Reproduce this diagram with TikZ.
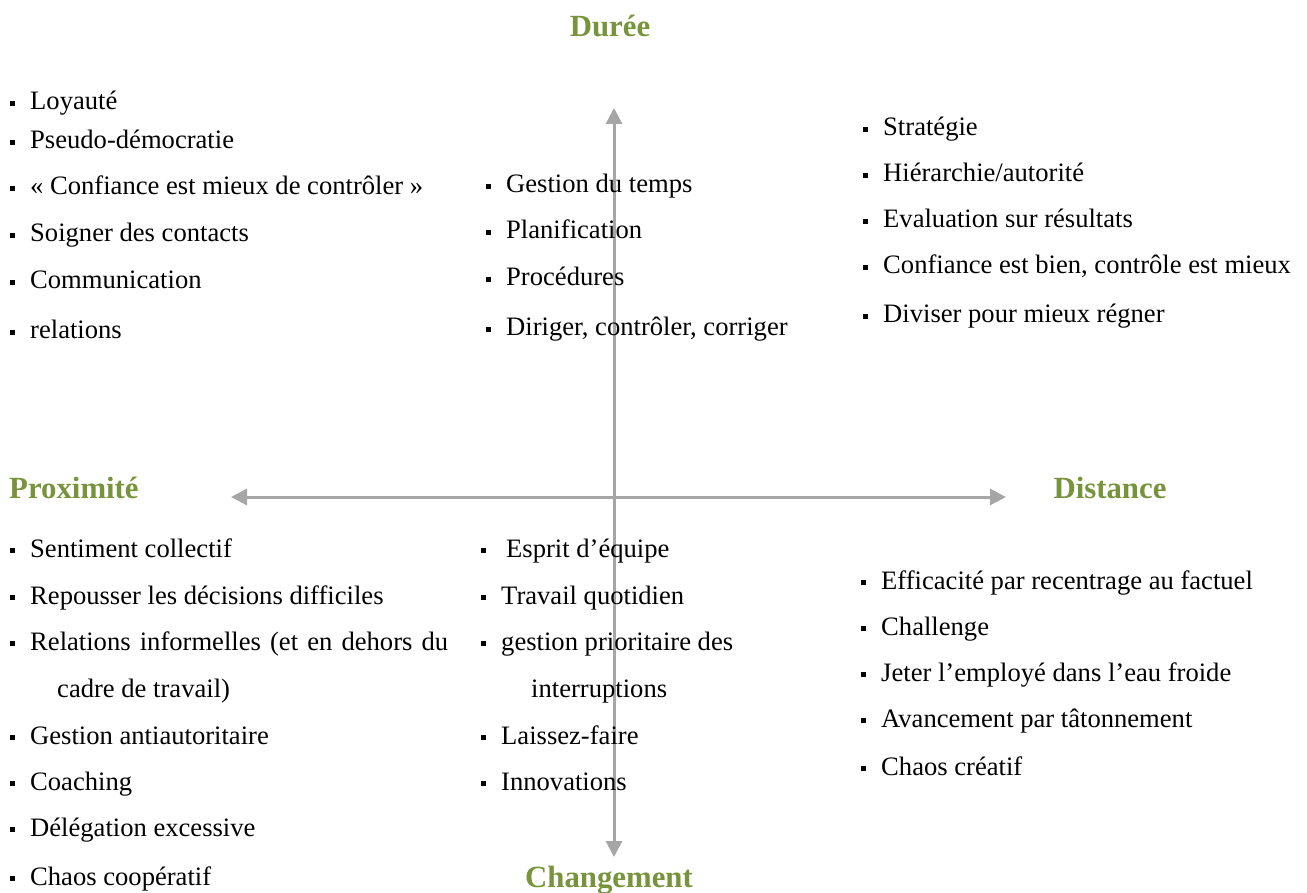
\documentclass[tikz,border=0pt]{standalone}
\usepackage{fontspec}
\setmainfont{Liberation Serif}
\usetikzlibrary{arrows.meta}
\definecolor{axisgreen}{HTML}{77933C}
\definecolor{axisgray}{HTML}{A6A6A6}
\newcommand{\itemfnt}{\fontsize{26.6}{32}\selectfont}
\newcommand{\headfnt}{\fontsize{30.8}{36}\selectfont\bfseries}
\newcommand{\bul}{\makebox[20pt][l]{\rule[0.15em]{5pt}{5pt}}}
\tikzset{
  itm/.style={anchor=base west, inner sep=0pt, font=\itemfnt, text=black},
  head/.style={anchor=base, inner sep=0pt, font=\headfnt, text=axisgreen},
  axisline/.style={draw=axisgray, line width=3pt, {Triangle[length=16pt,width=16pt]}-{Triangle[length=16pt,width=16pt]}}
}
\begin{document}
\begin{tikzpicture}[x=1pt,y=-1pt]
\useasboundingbox (0,0) rectangle (1307,893);
% axes
\coordinate (vt) at (614,108);
\coordinate (vb) at (614,857);
\coordinate (hl) at (231,497);
\coordinate (hr) at (1006,497);
\draw[axisline] (vb) -- (vt);
\draw[axisline] (hl) -- (hr);
% headers
\node[head] (duree) at (610,37) {Durée};
\node[head, anchor=base west] (prox) at (9,498) {Proximité};
\node[head] (dist) at (1110,498) {Distance};
\node[head] (chg) at (609,887) {Changement};
% top left
\node[itm] (a1) at (10,110) {\bul Loyauté};
\node[itm] (a2) at (10,149) {\bul Pseudo-démocratie};
\node[itm] (a3) at (10,195) {\bul « Confiance est mieux de contrôler »};
\node[itm] (a4) at (10,242) {\bul Soigner des contacts};
\node[itm] (a5) at (10,289) {\bul Communication};
\node[itm] (a6) at (10,339) {\bul relations};
% top middle
\node[itm] (b1) at (486,193) {\bul Gestion du temps};
\node[itm] (b2) at (486,239) {\bul Planification};
\node[itm] (b3) at (486,286) {\bul Procédures};
\node[itm] (b4) at (486,336) {\bul Diriger, contrôler, corriger};
% top right
\node[itm] (c1) at (863,136) {\bul Stratégie};
\node[itm] (c2) at (863,182) {\bul Hiérarchie/autorité};
\node[itm] (c3) at (863,228) {\bul Evaluation sur résultats};
\node[itm] (c4) at (863,274) {\bul Confiance est bien, contrôle est mieux};
\node[itm] (c5) at (863,323) {\bul Diviser pour mieux régner};
% bottom left
\node[itm] (d1) at (10,557) {\bul Sentiment collectif};
\node[itm] (d2) at (10,604) {\bul Repousser les décisions difficiles};
\node[itm] (d3) at (10,650) {\bul \makebox[418pt][s]{Relations informelles (et en dehors du}};
\node[itm] (d3b) at (57,697) {cadre de travail)};
\node[itm] (d4) at (10,744) {\bul Gestion antiautoritaire};
\node[itm] (d5) at (10,790) {\bul Coaching};
\node[itm] (d6) at (10,836) {\bul Délégation excessive};
\node[itm] (d7) at (10,885) {\bul Chaos coopératif};
% bottom middle
\node[itm] (e1) at (481,557) {\bul\hspace{5pt}Esprit d’équipe};
\node[itm] (e2) at (481,604) {\bul Travail quotidien};
\node[itm] (e3) at (481,650) {\bul gestion prioritaire des};
\node[itm] (e3b) at (531,697) {interruptions};
\node[itm] (e4) at (481,744) {\bul Laissez-faire};
\node[itm] (e5) at (481,790) {\bul Innovations};
% bottom right
\node[itm] (f1) at (861,589) {\bul Efficacité par recentrage au factuel};
\node[itm] (f2) at (861,635) {\bul Challenge};
\node[itm] (f3) at (861,681) {\bul Jeter l’employé dans l’eau froide};
\node[itm] (f4) at (861,727) {\bul Avancement par tâtonnement};
\node[itm] (f5) at (861,775) {\bul Chaos créatif};
\end{tikzpicture}
\end{document}
